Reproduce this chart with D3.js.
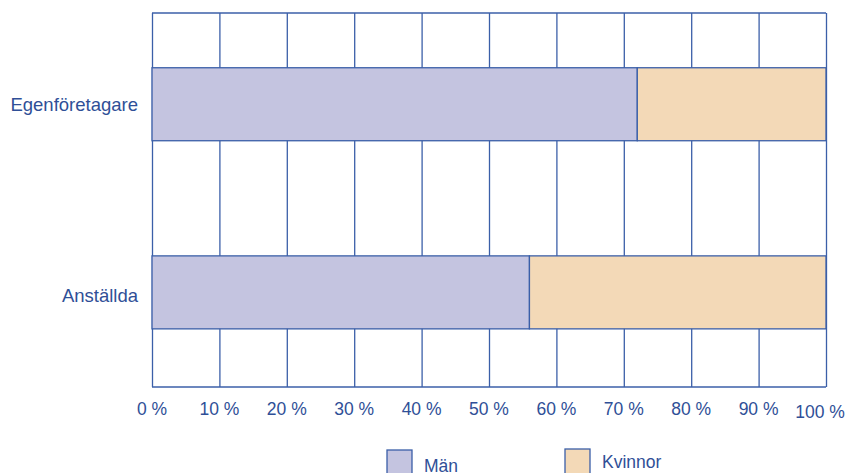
<!DOCTYPE html>
<html>
<head>
<meta charset="utf-8">
<script src="https://cdn.jsdelivr.net/npm/d3@7"></script>
<style>
  body { margin: 0; background: #fff; }
  svg { display: block; font-family: "Liberation Sans", Arial, sans-serif; }
</style>
</head>
<body>
<svg id="chart" width="849" height="473"></svg>
<script>
// kategorier och andelar (procent)
var categories = ["Egenföretagare", "Anställda"];
var man = [72, 56];
var kvinnor = [28, 44];
var xTicks = [0, 10, 20, 30, 40, 50, 60, 70, 80, 90, 100];
var seriesNames = ["Män", "Kvinnor"];

var lineColor = "#3b5fa8";
var textColor = "#2f4f97";
var colors = ["#c4c4e0", "#f3d9b7"];

var plotLeft = 152, plotRight = 826, plotTop = 13, plotBottom = 387;
var fontSize = 17.5;

var svg = d3.select("#chart");

var x = d3.scaleLinear().domain([0, 100]).range([plotLeft, plotRight]);
var y = d3.scaleBand().domain(categories).range([plotTop, plotBottom])
    .paddingInner(0.612).paddingOuter(0.3).align(0.485);

// rutnät
svg.append("g")
    .attr("transform", "translate(0," + plotBottom + ")")
    .call(d3.axisBottom(x).tickValues(xTicks).tickSize(-(plotBottom - plotTop)).tickFormat(""))
    .call(function (g) { g.select(".domain").remove(); })
    .selectAll("line")
    .attr("stroke", lineColor)
    .attr("stroke-width", 1.3);

// topp- och bottenlinje
[plotTop, plotBottom].forEach(function (yy) {
    svg.append("line")
        .attr("x1", plotLeft).attr("x2", plotRight)
        .attr("y1", yy).attr("y2", yy)
        .attr("stroke", lineColor).attr("stroke-width", 1.3);
});

// staplar
var rows = categories.map(function (c, i) {
    return { cat: c, vals: [man[i], kvinnor[i]] };
});

rows.forEach(function (r) {
    var start = 0;
    r.vals.forEach(function (v, j) {
        svg.append("rect")
            .attr("x", x(start))
            .attr("y", y(r.cat))
            .attr("width", x(start + v) - x(start))
            .attr("height", y.bandwidth())
            .attr("fill", colors[j])
            .attr("stroke", lineColor)
            .attr("stroke-width", 1.3);
        start += v;
    });
});

// kategorietiketter
svg.append("g").selectAll("text")
    .data(categories)
    .join("text")
    .attr("x", 138)
    .attr("y", function (d, i) { return y(d) + y.bandwidth() / 2 + 6 + (i === 1 ? 4 : 1); })
    .attr("text-anchor", "end")
    .attr("font-size", 18.5)
    .attr("fill", textColor)
    .text(function (d) { return d; });

// x-etiketter
svg.append("g").selectAll("text")
    .data(xTicks)
    .join("text")
    .attr("x", function (d) { return d === 100 ? x(d) - 6 : x(d); })
    .attr("y", function (d) { return d === 100 ? 418 : 415; })
    .attr("text-anchor", "middle")
    .attr("font-size", fontSize)
    .attr("fill", textColor)
    .text(function (d) { return d + " %"; });

// förklaring
var legendX = [387, 565];
var legendTextY = [472, 468];
var legendBoxY = [450, 449];
seriesNames.forEach(function (n, i) {
    svg.append("rect")
        .attr("x", legendX[i]).attr("y", legendBoxY[i])
        .attr("width", 25).attr("height", 28)
        .attr("fill", colors[i])
        .attr("stroke", lineColor).attr("stroke-width", 1.3);
    svg.append("text")
        .attr("x", legendX[i] + 37).attr("y", legendTextY[i])
        .attr("font-size", fontSize)
        .attr("fill", textColor)
        .text(n);
});
</script>
</body>
</html>
